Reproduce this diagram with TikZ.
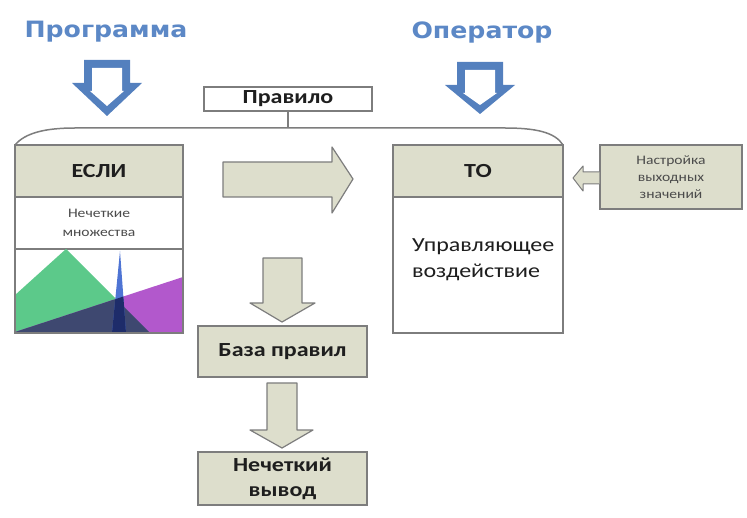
\documentclass[tikz,border=0pt]{standalone}
\usepackage{fontspec}
\setmainfont{Carlito}[FakeStretch=1.2]
\newfontfamily\headfont{DejaVu Sans}[FakeStretch=1.12]
\definecolor{arrowblue}{RGB}{84,128,190}
\definecolor{headblue}{RGB}{92,136,198}
\definecolor{boxfill}{RGB}{221,222,204}
\definecolor{boxline}{RGB}{125,125,125}
\definecolor{txt}{RGB}{30,30,30}
\definecolor{fgreen}{RGB}{92,201,138}
\definecolor{fpurple}{RGB}{178,88,204}
\definecolor{fnavy}{RGB}{62,72,112}
\definecolor{fblue}{RGB}{78,116,212}
\definecolor{fdeep}{RGB}{30,44,106}
\begin{document}
\begin{tikzpicture}[x=1pt,y=1pt]
\tikzstyle{every node}+=[inner sep=0pt, text=txt]
\tikzstyle{box}=[draw=boxline, line width=1.5pt, fill=boxfill, minimum width=168pt, font=\fontsize{20}{25}\selectfont\bfseries, align=center]
\tikzstyle{whitebox}=[box, fill=white]
\tikzstyle{heading}=[font=\headfont\bfseries\fontsize{22.5}{26}\selectfont, text=headblue]
\tikzstyle{blockarrow}=[draw=boxline, line width=1.2pt, fill=boxfill, line join=round]
\useasboundingbox (0,0) rectangle (747,-518);
% headings and blue arrows
\node[heading] (prog) at (106,-32) {Программа};
\node[heading] (oper) at (482,-32) {Оператор};
\fill[arrowblue] (84,-60) -- (130,-60) -- (130,-83) -- (142,-83) -- (107,-116) -- (72,-83) -- (84,-83) -- cycle;
\fill[white] (92,-68) -- (122,-68) -- (122,-91) -- (124,-91) -- (107,-106) -- (90,-91) -- (92,-91) -- cycle;
\fill[arrowblue] (457,-62) -- (503,-62) -- (503,-85) -- (515,-85) -- (480,-114) -- (445,-85) -- (457,-85) -- cycle;
\fill[white] (465,-70) -- (495,-70) -- (495,-93) -- (497,-93) -- (480,-105) -- (463,-93) -- (465,-93) -- cycle;
% rule and bracket
\node[whitebox, minimum width=168pt, minimum height=24pt, line width=1.2pt, font=\fontsize{20}{22}\selectfont\bfseries] (pravilo) at (288,-99) {Правило};
\coordinate (bracetop) at (288,-128);
\draw[boxline, line width=1.5pt] (15,-145) .. controls (25,-133) and (45,-128) .. (75,-128) -- (505,-128) .. controls (535,-128) and (555,-132) .. (563,-145);
\draw[boxline, line width=1.5pt] (pravilo.south) -- (bracetop);
% IF column
\node[box, minimum height=52pt] (esli) at (99,-171) {ЕСЛИ};
\node[whitebox, minimum height=52pt, font=\fontsize{13}{19}\selectfont, text=txt!80] (mnozh) at (99,-223) {Нечеткие\\множества};
\begin{scope}
\clip (15,-249) rectangle (183,-333);
\fill[fgreen] (-27,-333) -- (66,-249) -- (150,-333) -- cycle;
\fill[fpurple] (15,-332) -- (183,-277) -- (183,-333) -- (15,-333) -- cycle;
\begin{scope}
\clip (-27,-333) -- (66,-249) -- (150,-333) -- cycle;
\fill[fnavy] (15,-332) -- (183,-277) -- (183,-333) -- (15,-333) -- cycle;
\end{scope}
\fill[fblue] (112,-333) -- (120,-251) -- (126,-333) -- cycle;
\begin{scope}
\clip (15,-332) -- (183,-277) -- (183,-333) -- (15,-333) -- cycle;
\fill[fdeep] (112,-333) -- (120,-251) -- (126,-333) -- cycle;
\end{scope}
\end{scope}
\draw[black!80, line width=1.5pt, densely dotted] (15,-249) -- (15,-333) -- (183,-333);
\draw[boxline, line width=1.5pt] (15,-145) rectangle (183,-333);
% big arrow to THEN
\draw[blockarrow] (223,-162) -- (332,-162) -- (332,-147) -- (353,-179) -- (332,-213) -- (332,-197) -- (223,-197) -- cycle;
% THEN column
\node[box, minimum width=170pt, minimum height=52pt] (to) at (478,-171) {ТО};
\node[whitebox, minimum width=170pt, minimum height=136pt, text width=132pt, inner xsep=19pt, text depth=39pt, align=left, font=\fontsize{20}{26}\selectfont] (upr) at (478,-265) {Управляющее\\воздействие};
\node[box, minimum width=142pt, minimum height=64pt, font=\fontsize{13}{17}\selectfont, text=txt!80] (nastr) at (671,-177) {Настройка\\выходных\\значений};
\draw[blockarrow, line width=1pt] (nastr.west |- 0,-172) -- (583,-172) -- (583,-166) -- (573,-178) -- (583,-191) -- (583,-184) -- (nastr.west |- 0,-184);
% rule base and inference
\draw[blockarrow] (263,-258) -- (302,-258) -- (302,-303) -- (315,-303) -- (282,-322) -- (250,-303) -- (263,-303) -- cycle;
\node[box, minimum width=169pt, minimum height=51pt] (baza) at (282.5,-351.5) {База правил};
\draw[blockarrow] (267,-383) -- (297,-383) -- (297,-430) -- (313,-430) -- (282,-448) -- (250,-430) -- (267,-430) -- cycle;
\node[box, minimum width=169pt, minimum height=53pt] (vyvod) at (282.5,-478.5) {Нечеткий\\вывод};
\end{tikzpicture}
\end{document}
